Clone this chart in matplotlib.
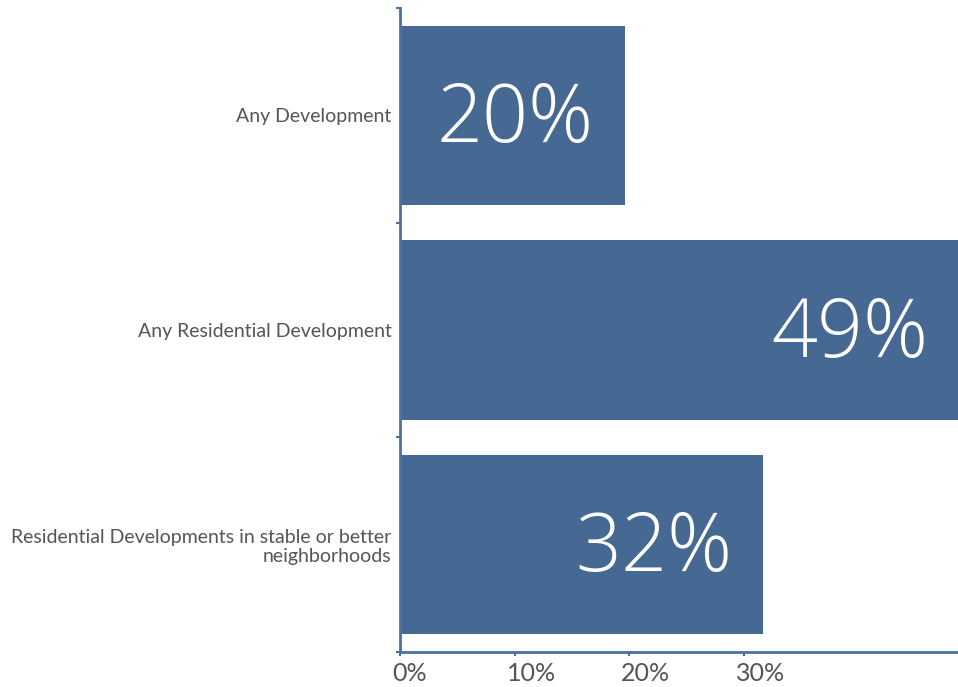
import matplotlib.pyplot as plt
import matplotlib.transforms as mtransforms

categories = ['Any Development', 'Any Residential Development',
              'Residential Developments in stable or better\nneighborhoods']
values = [19.6, 48.8, 31.7]
bar_labels = ['20%', '49%', '32%']
xticks = [0, 10, 20, 30]
xticklabels = ['0%', '10%', '20%', '30%']

bar_color = '#456993'
axis_color = '#4a71a0'
text_color = '#555555'

fig = plt.figure(figsize=(9.58, 6.87), dpi=100)
ax = fig.add_axes([400/958, 35/687, 558/958, 644/687])

y = range(len(categories))
ax.barh(y, values, height=0.835, color=bar_color)

# big white labels inside the bar ends
for i, (v, lab) in enumerate(zip(values, bar_labels)):
    ax.annotate(lab, xy=(v, i), xytext=(-22, -4), textcoords='offset points',
                ha='right', va='center', color='white', fontsize=58,
                family='Open Sans', fontweight='light', annotation_clip=False)

ax.set_xlim(0, 48.7)
ax.set_ylim(2.5, -0.5)

ax.set_yticks([0, 1, 2])
ax.set_yticklabels(categories, fontsize=14, family='Lato', color=text_color,
                   linespacing=1.15)
ax.tick_params(axis='y', length=0, pad=6)
ax.set_yticks([-0.5, 0.5, 1.5, 2.5], minor=True)
ax.tick_params(axis='y', which='minor', length=3, width=1.5, color=axis_color)

ax.set_xticks(xticks)
ax.set_xticklabels(xticklabels, fontsize=18, family='Lato', color=text_color,
                   ha='left')
ax.tick_params(axis='x', length=3, width=1.5, color=axis_color, pad=4)
offset = mtransforms.ScaledTranslation(-8/100, 0, fig.dpi_scale_trans)
for lab in ax.get_xticklabels():
    lab.set_transform(lab.get_transform() + offset)

for side in ['top', 'right']:
    ax.spines[side].set_visible(False)
for side in ['left', 'bottom']:
    ax.spines[side].set_color(axis_color)
    ax.spines[side].set_linewidth(2)

fig.savefig('out.png', dpi=100, facecolor='white')
